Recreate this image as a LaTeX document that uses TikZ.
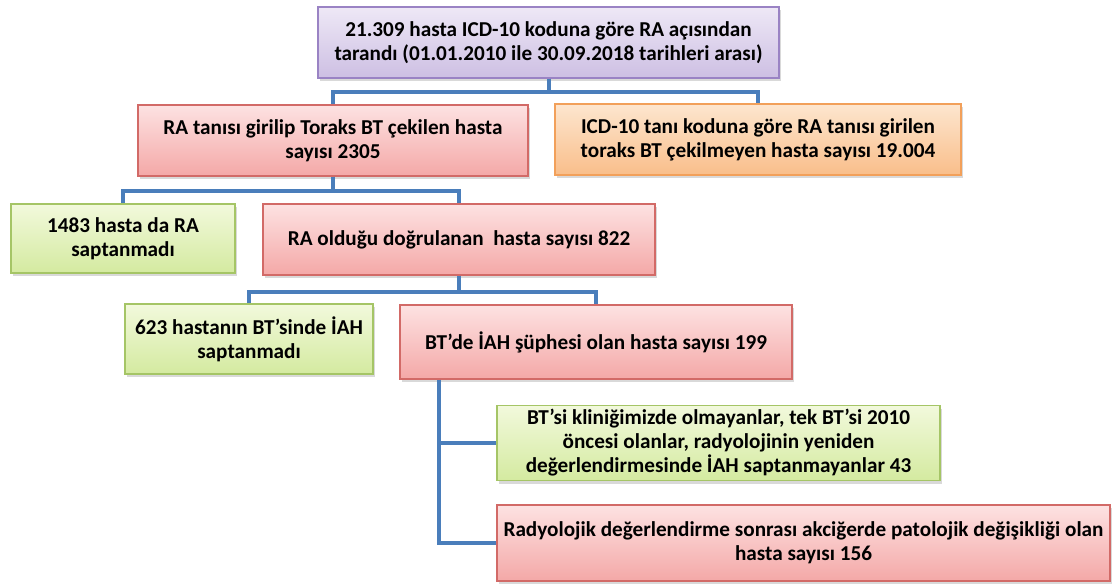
\documentclass[tikz,border=0pt]{standalone}
\usepackage{fontspec}
\setmainfont{Carlito}
\usetikzlibrary{shadows}

\definecolor{verbinder}{HTML}{4A7EBB}
\definecolor{morcizgi}{HTML}{9A83C4}
\definecolor{morust}{HTML}{EEE8F6}
\definecolor{moralt}{HTML}{CDBFE3}
\definecolor{pembecizgi}{HTML}{D26A67}
\definecolor{pembeust}{HTML}{FDE2E2}
\definecolor{pembealt}{HTML}{F4A8A7}
\definecolor{turuncucizgi}{HTML}{F2A05A}
\definecolor{turuncuust}{HTML}{FDE6CF}
\definecolor{turuncualt}{HTML}{F9BE8A}
\definecolor{yesilcizgi}{HTML}{A5C566}
\definecolor{yesilust}{HTML}{F2F9DC}
\definecolor{yesilalt}{HTML}{D4EAA0}

\begin{document}
\begin{tikzpicture}[
        x=0.5pt, y=-0.5pt,
        font=\fontsize{10.6}{12}\selectfont\bfseries,
        kutu/.style={draw, line width=0.7pt, align=center, inner xsep=1pt, inner ysep=2pt,
            drop shadow={shadow xshift=1.2pt, shadow yshift=-1.5pt, opacity=0.3}},
        mor/.style={kutu, draw=morcizgi, top color=morust, bottom color=moralt},
        pembe/.style={kutu, draw=pembecizgi, top color=pembeust, bottom color=pembealt},
        turuncu/.style={kutu, draw=turuncucizgi, top color=turuncuust, bottom color=turuncualt},
        yesil/.style={kutu, draw=yesilcizgi, top color=yesilust, bottom color=yesilalt},
        hat/.style={draw=verbinder, line width=2pt}
        ]
            \useasboundingbox (0,0) rectangle (1116,586);

            % Kutular
            \node[mor, minimum width=230.5pt, minimum height=35.5pt] (tarama) at (548.5,42.5)
                {21.309 hasta ICD-10 koduna göre RA açısından\\tarandı (01.01.2010 ile 30.09.2018 tarihleri arası)};
            \node[pembe, minimum width=195pt, minimum height=35.5pt] (ratani) at (333,140.5)
                {RA tanısı girilip Toraks BT çekilen hasta\\sayısı 2305};
            \node[turuncu, minimum width=203pt, minimum height=35.5pt] (cekilmeyen) at (758,139.5)
                {ICD-10 tanı koduna göre RA tanısı girilen\\toraks BT çekilmeyen hasta sayısı 19.004};
            \node[yesil, minimum width=112pt, minimum height=34.5pt] (raYok) at (123,238.5)
                {1483 hasta da RA\\saptanmadı};
            \node[pembe, minimum width=196pt, minimum height=35.5pt] (dogrulanan) at (459,239.5)
                {RA olduğu doğrulanan\ \ hasta sayısı 822};
            \node[yesil, minimum width=124pt, minimum height=35pt] (iahYok) at (249,339)
                {623 hastanın BT’sinde İAH\\saptanmadı};
            \node[pembe, minimum width=196pt, minimum height=37pt] (supheli) at (596,342)
                {BT’de İAH şüphesi olan hasta sayısı 199};
            \node[yesil, minimum width=221.5pt, minimum height=35pt] (klinik) at (718.5,443)
                {BT’si kliniğimizde olmayanlar, tek BT’si 2010\\öncesi olanlar, radyolojinin yeniden\\değerlendirmesinde İAH saptanmayanlar 43};
            \node[pembe, minimum width=306.5pt, minimum height=38pt] (radyolojik) at (803.5,543)
                {Radyolojik değerlendirme sonrası akciğerde patolojik değişikliği olan\\hasta sayısı 156};

            % Bağlantılar
            \draw[hat]  (tarama.south) -- ++(0,13) -| (ratani.north);
            \draw[hat]  (tarama.south) -- ++(0,13) -| (cekilmeyen.north);
            \draw[hat]  (ratani.south) -- ++(0,14) -| (raYok.north);
            \draw[hat]  (ratani.south) -- ++(0,14) -| (dogrulanan.north);
            \draw[hat]  (dogrulanan.south) -- ++(0,16) -| (iahYok.north);
            \draw[hat]  (dogrulanan.south) -- ++(0,16) -| (supheli.north);

            \coordinate (dal) at ([xshift=20pt]supheli.south west);
            \draw[hat]  (dal) |- (klinik.west);
            \draw[hat]  (dal) |- (radyolojik.west);

        \end{tikzpicture}
\end{document}
